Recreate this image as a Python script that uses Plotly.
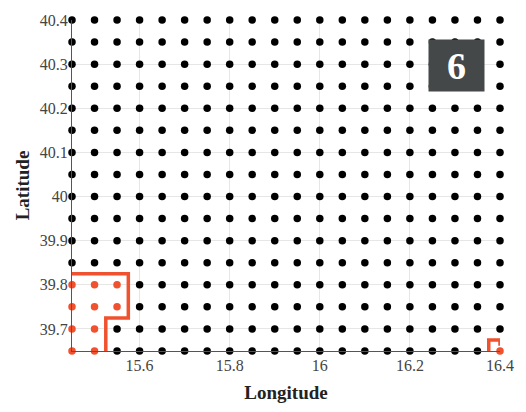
import numpy as np
import plotly.graph_objects as go

# Grid of sampling points (0.05 degree spacing)
lons = [round(15.45 + 0.05 * i, 2) for i in range(20)]
lats = [round(39.65 + 0.05 * j, 2) for j in range(16)]

# Points selected in the highlighted region
sel_lon = [15.45, 15.50, 15.55, 15.45, 15.50, 15.55, 15.45, 15.50, 15.45, 15.50, 16.40]
sel_lat = [39.80, 39.80, 39.80, 39.75, 39.75, 39.75, 39.70, 39.70, 39.65, 39.65, 39.65]

# Region boundary outlines
edge1_lon = [15.45, 15.575, 15.575, 15.525, 15.525]
edge1_lat = [39.825, 39.825, 39.725, 39.725, 39.65]
edge2_lon = [16.375, 16.375, 16.40, 16.40]
edge2_lat = [39.65, 39.675, 39.675, 39.662]

RED = "#f0512e"
sel = set(zip(sel_lon, sel_lat))
blk_lon, blk_lat = [], []
for la in lats:
    for lo in lons:
        if (lo, la) not in sel:
            blk_lon.append(lo)
            blk_lat.append(la)

fig = go.Figure()
fig.add_trace(go.Scatter(x=blk_lon, y=blk_lat, mode="markers",
                         marker=dict(color="black", size=7.5), cliponaxis=False,
                         hoverinfo="skip"))
fig.add_trace(go.Scatter(x=sel_lon, y=sel_lat, mode="markers",
                         marker=dict(color=RED, size=7.5), cliponaxis=False,
                         hoverinfo="skip"))
for ex, ey in [(edge1_lon, edge1_lat), (edge2_lon, edge2_lat)]:
    fig.add_trace(go.Scatter(x=ex, y=ey, mode="lines",
                             line=dict(color=RED, width=3.5), cliponaxis=False,
                             hoverinfo="skip"))

fig.add_annotation(x=0.898, y=0.864, xref="paper", yref="paper",
                   xanchor="center", yanchor="middle",
                   text="<b>6</b>", showarrow=False,
                   font=dict(family="Liberation Serif", size=38, color="white"),
                   bgcolor="#454849", width=53, height=49)

axis_common = dict(showgrid=True, gridcolor="#e6e6e6", gridwidth=1,
                   showline=True, linecolor="#555555", linewidth=1,
                   zeroline=False, ticks="",
                   tickfont=dict(family="Liberation Serif", size=16, color="#444444"))

fig.update_layout(
    width=526, height=412,
    margin=dict(l=72, r=24, t=18, b=55),
    plot_bgcolor="white", paper_bgcolor="white",
    showlegend=False,
    xaxis=dict(range=[15.45, 16.4], tickvals=[15.6, 15.8, 16, 16.2, 16.4],
               ticktext=["15.6", "15.8", "16", "16.2", "16.4"],
               title=dict(text="<b>Longitude</b>", standoff=12,
                          font=dict(family="Liberation Serif", size=19, color="#222222")),
               **axis_common),
    yaxis=dict(range=[39.65, 40.4], tickvals=[39.7, 39.8, 39.9, 40, 40.1, 40.2, 40.3, 40.4],
               ticktext=["39.7", "39.8", "39.9", "40", "40.1", "40.2", "40.3", "40.4"],
               title=dict(text="<b>Latitude</b>", standoff=5,
                          font=dict(family="Liberation Serif", size=19, color="#222222")),
               **axis_common),
)

fig.write_html("out.html")
